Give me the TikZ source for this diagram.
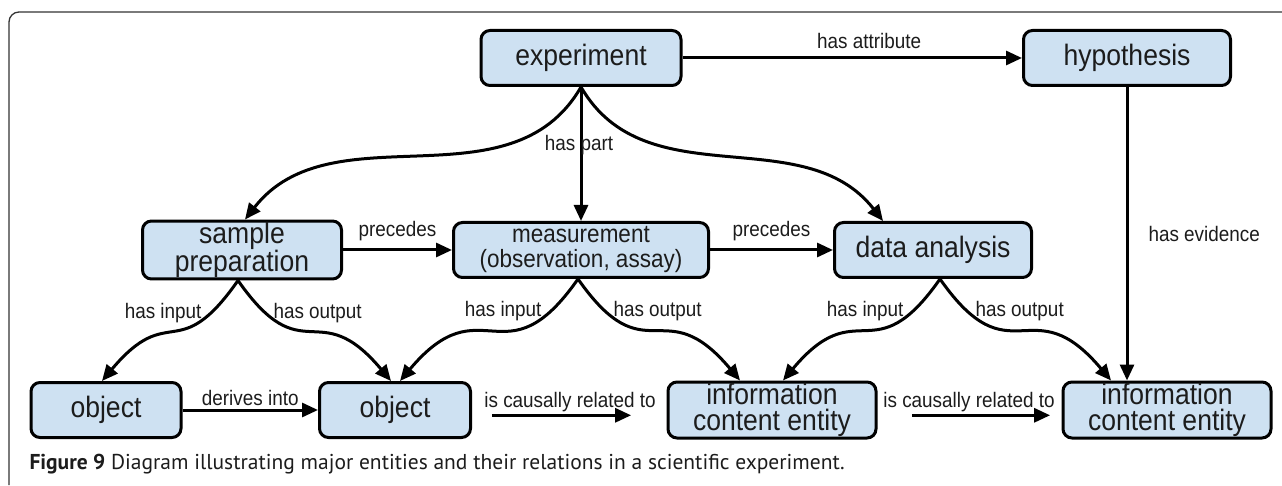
\documentclass[tikz,border=0pt]{standalone}
\usepackage{fontspec}
\usepackage{tikz}
\usetikzlibrary{positioning}
\usetikzlibrary{arrows.meta}
\usepackage{xcolor}
\newfontfamily\boxfont{Liberation Sans}[FakeStretch=0.9]
\newfontfamily\capfont{PT Sans}
\definecolor{boxblue}{RGB}{206,225,242}
\definecolor{ink}{RGB}{28,28,28}

\begin{document}
\begin{tikzpicture}[x=1pt, y=1pt, line width=3pt, >={Triangle[length=16pt,width=14pt]},
  box/.style = {draw, rounded corners=9pt, fill=boxblue, align=center, minimum height=55pt, inner sep=1pt, text=ink, font=\boxfont\fontsize{29.5pt}{26.5pt}\selectfont},
  lbl/.style = {inner sep=1pt, text=ink, font=\boxfont\fontsize{21pt}{24pt}\selectfont}]
\useasboundingbox (0,0) rectangle (1282,485);
% frame
\draw[line width=1.3pt, black!80, rounded corners=10pt] (9,0) -- (9,473) -- (1282,473);

\node[box, minimum width=200pt] (exp) at (581,427) {experiment};
\node[box, minimum width=207pt] (hyp) at (1127,427) {hypothesis};
\node[box, minimum width=199pt] (sp) at (242,235) {sample\\preparation};
\node[box, minimum width=255pt, font=\boxfont\fontsize{25pt}{25pt}\selectfont] (meas) at (581,235) {measurement\\(observation, assay)};
\node[box, minimum width=197pt] (da) at (933,235) {data analysis};
\node[box, minimum width=150pt] (o1) at (106,75) {object};
\node[box, minimum width=151pt] (o2) at (395,75) {object};
\node[box, minimum width=208pt] (ice1) at (772,75) {information\\content entity};
\node[box, minimum width=208pt] (ice2) at (1167,75) {information\\content entity};

% top level
\draw[->] (exp) -- node[lbl, above=7pt, pos=0.55] (lAttr) {has attribute} (hyp);
\draw[->] (exp) -- node[lbl, pos=0.43, xshift=-2pt] (lPart) {has part} (meas);
\draw[->] (exp.south) to[out=-120, in=52] ([xshift=3pt]sp.north);
\draw[->] (exp.south) to[out=-60, in=128] ([xshift=-50pt]da.north);
\draw[->] (hyp.south) -- node[lbl, right=19pt] (lEvid) {has evidence} (hyp.south |- ice2.north);

% middle row
\draw[->] (sp) -- node[lbl, above=7pt] (lPre1) {precedes} (meas);
\draw[->] (meas) -- node[lbl, above=7pt] (lPre2) {precedes} (da);

\coordinate (spF) at ([xshift=-4pt]sp.south);
\coordinate (meF) at ([xshift=-3pt]meas.south);
\coordinate (daF) at ([xshift=7pt]da.south);

\draw[->] (spF) to[out=-125, in=50, looseness=1.6] ([xshift=-4pt]o1.north);
\draw[->] (spF) to[out=-55, in=130, looseness=1.6] ([xshift=-4pt]o2.north);
\draw[->] (meF) to[out=-125, in=50, looseness=1.6] ([xshift=5pt]o2.north);
\draw[->] (meF) to[out=-55, in=130, looseness=1.6] ([xshift=-32pt]ice1.north);
\draw[->] (daF) to[out=-125, in=50, looseness=1.6] ([xshift=11pt]ice1.north);
\draw[->] (daF) to[out=-55, in=130, looseness=1.6] ([xshift=-56pt]ice2.north);

\node[lbl, anchor=base east] (inSP) at ([xshift=-34pt, yshift=-38pt]spF) {has input};
\node[lbl, anchor=base west] (outSP) at ([xshift=33pt, yshift=-38pt]spF) {has output};
\node[lbl, anchor=base east] (inME) at ([xshift=-34pt, yshift=-38pt]meF) {has input};
\node[lbl, anchor=base west] (outME) at ([xshift=33pt, yshift=-38pt]meF) {has output};
\node[lbl, anchor=base east] (inDA) at ([xshift=-34pt, yshift=-38pt]daF) {has input};
\node[lbl, anchor=base west] (outDA) at ([xshift=33pt, yshift=-38pt]daF) {has output};

% bottom row
\draw[->] (o1) -- node[lbl, above=2pt] (lDer) {derives into} (o2);
\node[lbl] (lCaus1) at (570,83) {is causally related to};
\draw[->] ([xshift=10pt, yshift=-1pt]lCaus1.south west) -- ([xshift=-27pt, yshift=-1pt]lCaus1.south east);
\node[lbl] (lCaus2) at (969,83) {is causally related to};
\draw[->] ([xshift=31pt, yshift=-1pt]lCaus2.south west) -- ([xshift=-7pt, yshift=-1pt]lCaus2.south east);

\node[anchor=base west, inner sep=0pt, text=ink, font=\capfont\fontsize{21.5pt}{22pt}\selectfont] (cap) at (28,16) {\textbf{Figure 9} Diagram illustrating major entities and their relations in a scientific experiment.};
\end{tikzpicture}
\end{document}
